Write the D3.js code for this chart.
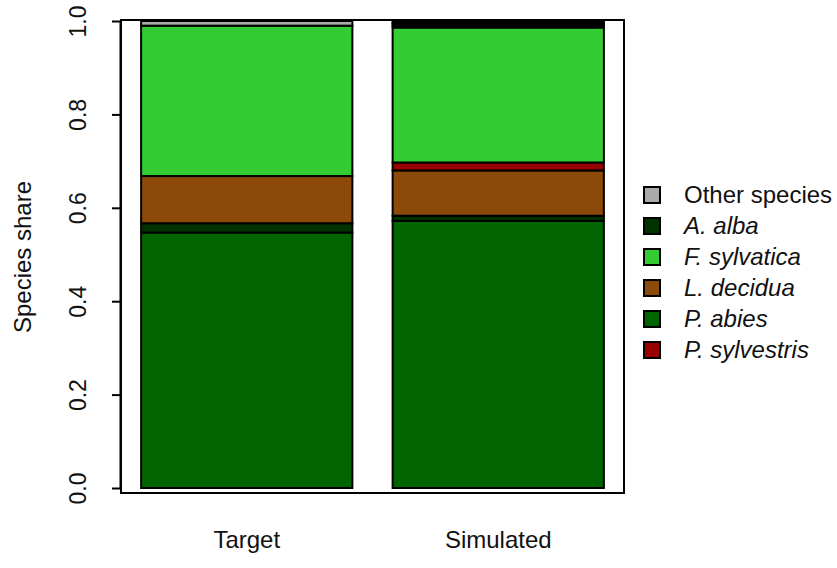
<!DOCTYPE html>
<html>
<head>
<meta charset="utf-8">
<script src="https://cdn.jsdelivr.net/npm/d3@7"></script>
<style>
  body { margin: 0; background: #fff; }
  text { font-family: "Liberation Sans", Arial, sans-serif; fill: #111; }
</style>
</head>
<body>
<div id="chart"></div>
<script>
// bars and the stacking order (bottom to top)
const groups = ["Target", "Simulated"];
const stackOrder = ["P. abies", "A. alba", "L. decidua", "P. sylvestris", "F. sylvatica", "Other species"];

// species shares per bar, same order as stackOrder
const targetShares = [0.547, 0.020, 0.101, 0.000, 0.322, 0.010];
const simulatedShares = [0.572, 0.011, 0.097, 0.017, 0.289, 0.014];
// "Other species" in the simulation is made of several small species
const simulatedOtherParts = [0.004, 0.004, 0.003, 0.003];

// legend
const legendNames = ["Other species", "A. alba", "F. sylvatica", "L. decidua", "P. abies", "P. sylvestris"];
const legendItalic = [false, true, true, true, true, true];
const colors = {
  "Other species": "#aaaaaa",
  "A. alba": "#003300",
  "F. sylvatica": "#33cc33",
  "L. decidua": "#8b4a0a",
  "P. abies": "#006400",
  "P. sylvestris": "#990000"
};

const yTicks = [0, 0.2, 0.4, 0.6, 0.8, 1.0];

const W = 837, H = 568;
const svg = d3.select("#chart").append("svg")
  .attr("width", W).attr("height", H);

const y = d3.scaleLinear().domain([0, 1]).range([488, 21]);
const x = d3.scaleBand().domain(groups).range([121, 624]).paddingInner(0.16).paddingOuter(0.08);

// build stacked segments
function segmentsFor(group, shares) {
  const segs = [];
  let base = 0;
  stackOrder.forEach((sp, i) => {
    const parts = (group === "Simulated" && sp === "Other species") ? simulatedOtherParts : [shares[i]];
    parts.forEach(v => {
      segs.push({group: group, species: sp, y0: base, y1: base + v});
      base += v;
    });
  });
  return segs;
}
const segments = segmentsFor("Target", targetShares).concat(segmentsFor("Simulated", simulatedShares));

svg.append("g").selectAll("rect")
  .data(segments)
  .join("rect")
  .attr("x", d => x(d.group))
  .attr("width", x.bandwidth())
  .attr("y", d => y(d.y1))
  .attr("height", d => y(d.y0) - y(d.y1))
  .attr("fill", d => colors[d.species])
  .attr("stroke", "#000")
  .attr("stroke-width", 2);

// plot box
svg.append("rect")
  .attr("x", 121).attr("y", 20)
  .attr("width", 503).attr("height", 473)
  .attr("fill", "none").attr("stroke", "#000").attr("stroke-width", 2);

// y axis
const yAxis = svg.append("g")
  .attr("transform", "translate(120,0)")
  .call(d3.axisLeft(y).tickValues(yTicks).tickFormat(d3.format(".1f")).tickSize(8).tickSizeOuter(0));
yAxis.select(".domain").attr("stroke", "#000").attr("stroke-width", 2);
yAxis.selectAll(".tick line").attr("stroke", "#000").attr("stroke-width", 2);
yAxis.selectAll(".tick text")
  .attr("x", 0).attr("y", 0)
  .attr("transform", "translate(-42,0) rotate(-90)")
  .attr("text-anchor", "middle")
  .attr("dy", "0.35em")
  .style("font-size", "23px")
  .style("font-family", "Liberation Sans, Arial, sans-serif")
  .attr("fill", "#111");

// y title
svg.append("text")
  .attr("transform", `translate(31,${(20 + 488) / 2 + 3}) rotate(-90)`)
  .attr("text-anchor", "middle")
  .style("font-size", "24px")
  .text("Species share");

// x labels
svg.append("g").selectAll("text")
  .data(groups)
  .join("text")
  .attr("x", d => x(d) + x.bandwidth() / 2)
  .attr("y", 548)
  .attr("text-anchor", "middle")
  .style("font-size", "24px")
  .text(d => d);

// legend
const legend = svg.append("g");
const rowY = i => 195 + i * 31;
legend.selectAll("rect")
  .data(legendNames)
  .join("rect")
  .attr("x", 644).attr("y", (d, i) => rowY(i) - 8)
  .attr("width", 16).attr("height", 16)
  .attr("fill", d => colors[d])
  .attr("stroke", "#000").attr("stroke-width", 2);
legend.selectAll("text")
  .data(legendNames)
  .join("text")
  .attr("x", 684).attr("y", (d, i) => rowY(i) + 8)
  .style("font-size", "24px")
  .style("font-style", (d, i) => legendItalic[i] ? "italic" : "normal")
  .text(d => d);
</script>
</body>
</html>
